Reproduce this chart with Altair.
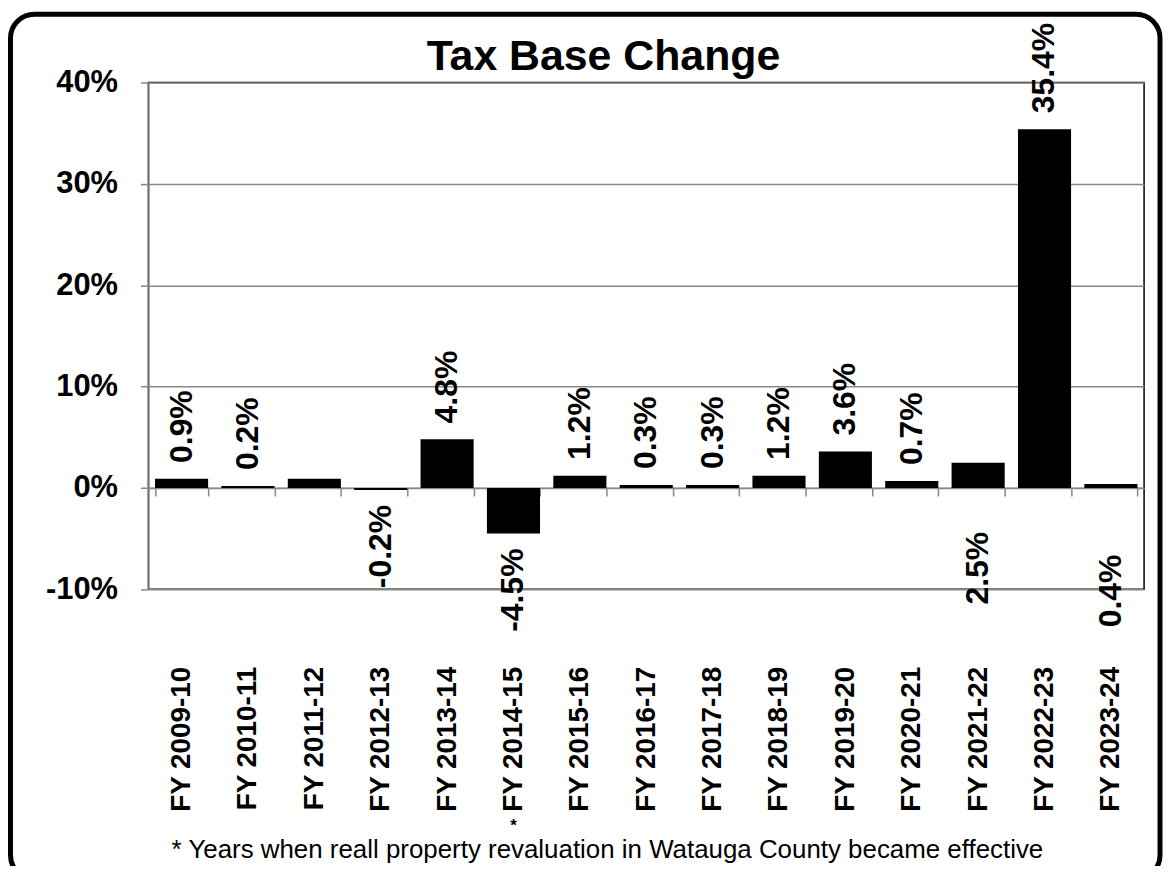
import altair as alt
import pandas as pd

# ---- data ----
years = ["FY 2009-10", "FY 2010-11", "FY 2011-12", "FY 2012-13", "FY 2013-14",
         "FY 2014-15", "FY 2015-16", "FY 2016-17", "FY 2017-18", "FY 2018-19",
         "FY 2019-20", "FY 2020-21", "FY 2021-22", "FY 2022-23", "FY 2023-24"]
changes = [0.9, 0.2, 0.9, -0.2, 4.8, -4.5, 1.2, 0.3, 0.3, 1.2, 3.6, 0.7, 2.5, 35.4, 0.4]
value_labels = ["0.9%", "0.2%", "0.9%", "-0.2%", "4.8%", "-4.5%", "1.2%", "0.3%",
                "0.3%", "1.2%", "3.6%", "0.7%", "2.5%", "35.4%", "0.4%"]
revaluation_years = ["FY 2014-15"]
y_ticks = [-10, 0, 10, 20, 30, 40]
title_text = "Tax Base Change"
footnote = "* Years when reall property revaluation in Watauga County became effective"

# ---- style (not data) ----
hidden_labels = ["FY 2011-12"]                       # label not visible in original
dropped_labels = {"FY 2021-22": 44, "FY 2023-24": 67}  # labels drawn below the axis (px)
FONT = "Liberation Sans"
GRAY = "#878787"
W, H = 1000, 509

df = pd.DataFrame({"year": years, "change": changes, "label": value_labels})

x_enc = alt.X("year:N", sort=years, title=None,
              scale=alt.Scale(paddingInner=0.2, paddingOuter=0.1),
              axis=alt.Axis(orient="bottom", offset=-(H * 0.2), tickBand="extent",
                            tickSize=8, tickColor=GRAY, domainColor=GRAY,
                            domainWidth=1.5, tickWidth=1.5,
                            labelAngle=270, labelAlign="right", labelBaseline="middle",
                            labelPadding=171, labelFont=FONT, labelFontSize=28,
                            labelFontWeight="bold", labelColor="black"))
y_scale = alt.Scale(domain=[-10, 40], nice=False, zero=False)

base = alt.Chart(df)

bars = base.mark_bar(color="black").encode(
    x=x_enc,
    y=alt.Y("change:Q", scale=y_scale, title=None,
            axis=alt.Axis(values=y_ticks, labelExpr="datum.value + '%'",
                          tickSize=8, tickColor=GRAY, domainColor=GRAY,
                          domainWidth=1.5, tickWidth=1.5, labelPadding=23,
                          labelFont=FONT, labelFontSize=31, labelFontWeight="bold",
                          labelColor="black", grid=True, gridColor=GRAY,
                          gridWidth=1.5)),
    y2=alt.datum(0),
)

text_common = dict(angle=270, baseline="middle", font=FONT, fontSize=32,
                   fontWeight="bold", color="black")
excluded = hidden_labels + list(dropped_labels.keys())
excl_expr = "indexof(" + str(excluded).replace("'", '"') + ", datum.year) < 0"

labels_above = base.mark_text(align="left", dx=16, **text_common).encode(
    x=alt.X("year:N", sort=years), y=alt.Y("change:Q", scale=y_scale), text="label:N"
).transform_filter(f"datum.change >= 0 && {excl_expr}")

labels_below = base.mark_text(align="right", dx=-15, **text_common).encode(
    x=alt.X("year:N", sort=years), y=alt.Y("change:Q", scale=y_scale), text="label:N"
).transform_filter(f"datum.change < 0 && {excl_expr}")

dropped_layers = []
for yr, px in dropped_labels.items():
    dropped_layers.append(
        base.mark_text(align="right", dx=-px, **text_common).encode(
            x=alt.X("year:N", sort=years), y=alt.Y("zero:Q", scale=y_scale),
            text="label:N"
        ).transform_calculate(zero="0").transform_filter(alt.datum.year == yr)
    )

star = alt.Chart(pd.DataFrame({"year": revaluation_years, "s": ["*"] * len(revaluation_years)})).mark_text(
    font=FONT, fontSize=17, fontWeight="bold", color="black", baseline="alphabetic"
).encode(x=alt.X("year:N", sort=years), y=alt.value(752), text="s:N")

title = alt.Chart(pd.DataFrame({"t": [title_text]})).mark_text(
    font=FONT, fontSize=43, fontWeight="bold", color="black",
    align="center", baseline="alphabetic"
).encode(x=alt.value(457), y=alt.value(-13), text="t:N")

foot = alt.Chart(pd.DataFrame({"t": [footnote]})).mark_text(
    font=FONT, fontSize=26, color="black", align="center", baseline="alphabetic"
).encode(x=alt.value(461), y=alt.value(779), text="t:N")

frame = alt.Chart(pd.DataFrame({"a": [0]})).mark_rect(
    fill=None, filled=False, stroke="black", strokeWidth=5, cornerRadius=24
).encode(x=alt.value(-138.5), x2=alt.value(1016), y=alt.value(-68.5), y2=alt.value(800))

chart = alt.layer(frame, bars, labels_above, labels_below, *dropped_layers,
                  star, title, foot).properties(
    width=W, height=H, autosize="none",
    padding={"left": 141, "top": 73, "right": 20, "bottom": 276},
).configure_view(stroke="black", strokeWidth=1.5)

chart.save("out.html", embed_options={"renderer": "svg", "actions": False})
